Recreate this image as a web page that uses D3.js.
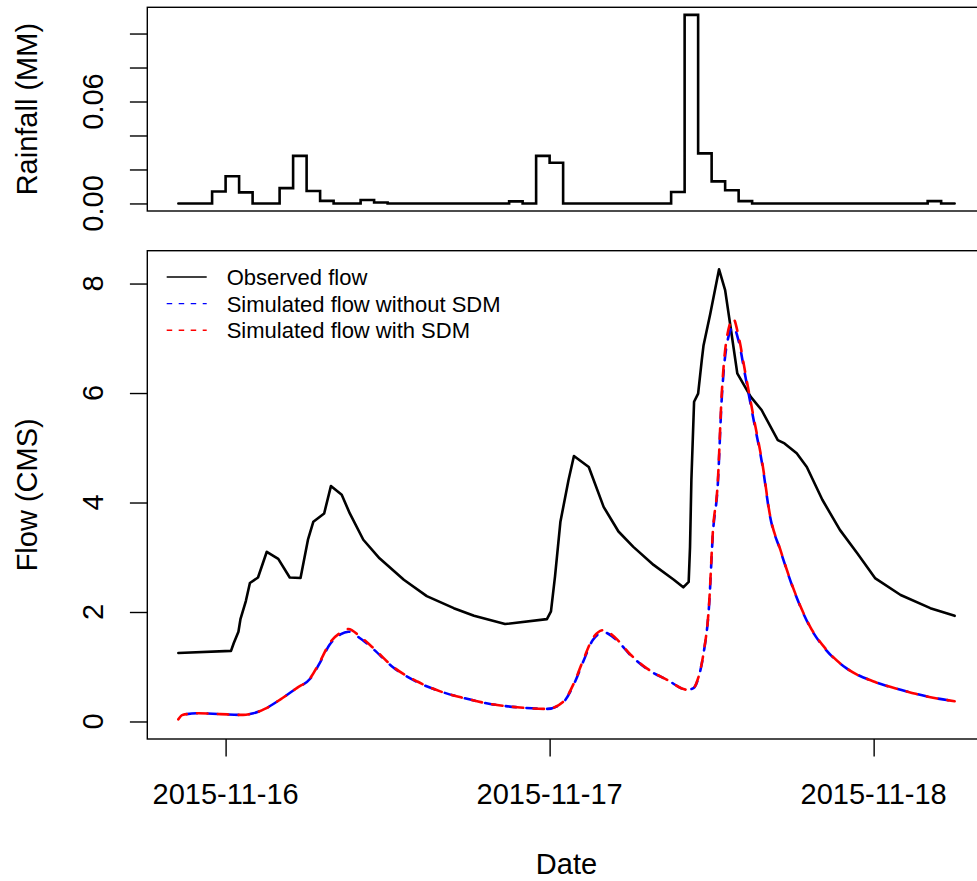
<!DOCTYPE html>
<html>
<head>
<meta charset="utf-8">
<script src="https://cdn.jsdelivr.net/npm/d3@7"></script>
<style>
  body { margin: 0; background: #fff; }
  svg { display: block; }
  text { font-family: "Liberation Sans", Arial, Helvetica, sans-serif; fill: #000; }
</style>
</head>
<body>
<svg id="chart" width="977" height="881"></svg>
<script>
// All times are hours counted from 2015-11-16 00:00 (UTC).

// Hourly rainfall (MM); first record at 20:30, then on the hour.
const rainHours = [-3.5].concat(d3.range(-3, 55));
const rainValues = [
  0, 0, 0,                       // 20:30, 21:00, 22:00
  0.007, 0.016, 0.0065,          // 23:00 .. 01:00
  0, 0,                          // 02:00, 03:00
  0.009, 0.028, 0.0073, 0.0015,  // 04:00 .. 07:00
  0, 0,                          // 08:00, 09:00
  0.002, 0.0006,                 // 10:00, 11:00
  0, 0, 0, 0, 0, 0, 0, 0, 0,     // 12:00 .. 20:00
  0.0012, 0,                     // 21:00, 22:00
  0.028, 0.024,                  // 23:00, 00:00
  0, 0, 0, 0, 0, 0, 0, 0,        // 01:00 .. 08:00
  0.0067, 0.111, 0.0295, 0.013, 0.0078, 0.0014, // 09:00 .. 14:00
  0, 0, 0, 0, 0, 0, 0, 0, 0, 0, 0, 0, 0,        // 15:00 .. 03:00
  0.0014, 0, 0                   // 04:00 .. 06:00
];

// Observed flow (CMS)
const obsHours = [
  -3.5, 0.4, 0.6, 0.95, 1.1, 1.5, 1.8, 2.4, 3.05, 3.9, 4.75, 5.55, 6.1, 6.5, 7.3, 7.8,
  8.6, 9.2, 10.2, 11.4, 13.2, 14.9, 16.9, 18.4, 20.7, 23.8, 24.1, 24.4, 24.8, 25.4, 25.8,
  26.9, 28.0, 29.1, 30.2, 31.7, 33.2, 33.9, 34.3, 34.4, 34.5, 34.7, 35.0, 35.27, 35.4,
  35.9, 36.55, 37.0, 37.4, 37.9, 38.9, 39.7, 40.9, 41.4, 42.3, 43.05, 44.2, 45.5, 46.8,
  48.1, 50.0, 52.2, 54.0
];
const obsFlow = [
  1.25, 1.29, 1.43, 1.64, 1.87, 2.2, 2.53, 2.63, 3.10, 2.97, 2.63, 2.62, 3.32, 3.65, 3.80, 4.30,
  4.14, 3.80, 3.32, 2.98, 2.59, 2.29, 2.07, 1.93, 1.78, 1.87, 2.01, 2.65, 3.65, 4.41, 4.85,
  4.65, 3.92, 3.47, 3.19, 2.86, 2.59, 2.45, 2.55, 3.19, 4.41, 5.84, 5.99, 6.6, 6.87,
  7.45, 8.26, 7.88, 7.21, 6.36, 5.93, 5.69, 5.14, 5.08, 4.90, 4.65, 4.05, 3.50, 3.07,
  2.62, 2.31, 2.07, 1.93
];

// Simulated flow (CMS), without and with SDM
const simHours = [
  -3.5, -3.2, -2.0, -0.4, 1.3, 2.06, 2.9, 4.04, 5.27, 6.26, 7.0, 7.7, 8.5, 9.1, 9.96,
  10.95, 12.4, 14.2, 15.9, 17.6, 19.6, 21.6, 23.8, 25.0, 25.8, 26.5, 27.2, 28.0, 28.9,
  30.0, 31.2, 32.7, 34.2, 34.65, 35.0, 35.4, 35.8, 36.1, 36.45, 36.75, 37.1, 37.6, 38.0,
  38.5, 39.1, 39.8, 40.3, 41.1, 42.1, 43.3, 44.5, 46.0, 48.0, 50.0, 51.9, 54.0
];
const simNoSDM = [
  0.04, 0.12, 0.15, 0.135, 0.12, 0.15, 0.23, 0.40, 0.61, 0.78, 1.08, 1.40, 1.59, 1.64, 1.52,
  1.32, 0.99, 0.72, 0.55, 0.43, 0.32, 0.26, 0.23, 0.35, 0.68, 1.10, 1.49, 1.63, 1.50,
  1.21, 0.96, 0.76, 0.58, 0.61, 0.78, 1.24, 2.08, 3.45, 4.30, 5.90, 6.85, 7.21, 6.95,
  6.30, 5.52, 4.62, 3.78, 3.12, 2.39, 1.72, 1.30, 0.97, 0.73, 0.58, 0.46, 0.37
];
const simSDM = [
  0.04, 0.12, 0.15, 0.135, 0.12, 0.15, 0.23, 0.40, 0.61, 0.79, 1.10, 1.43, 1.62, 1.69, 1.55,
  1.34, 1.00, 0.73, 0.55, 0.43, 0.32, 0.26, 0.23, 0.36, 0.70, 1.13, 1.52, 1.67, 1.52,
  1.22, 0.97, 0.76, 0.58, 0.61, 0.79, 1.25, 2.10, 3.50, 4.35, 5.99, 6.97, 7.36, 7.03,
  6.36, 5.57, 4.65, 3.80, 3.13, 2.40, 1.73, 1.31, 0.97, 0.73, 0.58, 0.46, 0.37
];

const dateTicks = ["2015-11-16", "2015-11-17", "2015-11-18"];
const rainTicks = [0, 0.02, 0.04, 0.06, 0.08, 0.10];
const rainTickLabels = ["0.00", "", "", "0.06", "", ""];
const flowTicks = [0, 2, 4, 6, 8];
const flowLimits = [-0.32, 8.6];

const legendItems = [
  { label: "Observed flow", color: "#000", dash: null },
  { label: "Simulated flow without SDM", color: "#0000ff", dash: "5.5,6.5" },
  { label: "Simulated flow with SDM", color: "#ff0000", dash: "5.5,6.5" }
];

// ---------------------------------------------------------------
const t0 = Date.UTC(2015, 10, 16);
const toDate = h => new Date(t0 + h * 3600000);
const pad = ([a, b]) => { const s = (b - a) * 0.04; return [a - s, b + s]; };

const svg = d3.select("#chart");
const left = 147.3, right = 985.7;
const top1 = 7.3, bottom1 = 211;
const top2 = 250.7, bottom2 = 739;
const tickLen = 17.4;
const axisFont = 29, legendFont = 22;

const x = d3.scaleUtc()
  .domain(pad(d3.extent(obsHours)).map(toDate))
  .range([left, right]);

const yRain = d3.scaleLinear()
  .domain(pad(d3.extent(rainValues)))
  .range([bottom1, top1]);

const yFlow = d3.scaleLinear()
  .domain(flowLimits)
  .range([bottom2, top2]);

// ---------- rainfall panel ----------
const rainLine = d3.line()
  .curve(d3.curveStepAfter)
  .x((d, i) => x(toDate(rainHours[i])))
  .y(d => yRain(d));

svg.append("path")
  .attr("d", rainLine(rainValues))
  .attr("fill", "none")
  .attr("stroke", "#000")
  .attr("stroke-width", 2.6)
  .attr("stroke-linejoin", "miter")
  .attr("stroke-linecap", "round");

svg.append("rect")
  .attr("x", left).attr("y", top1)
  .attr("width", right - left).attr("height", bottom1 - top1)
  .attr("fill", "none").attr("stroke", "#000").attr("stroke-width", 1.4);

const rainAxis = svg.append("g").attr("transform", `translate(${left},0)`)
  .call(d3.axisLeft(yRain).tickValues(rainTicks).tickSize(tickLen).tickFormat(""));
rainAxis.select(".domain").remove();
rainAxis.selectAll(".tick line").attr("stroke-width", 1.4);

rainTicks.forEach((v, i) => {
  if (!rainTickLabels[i]) return;
  svg.append("text")
    .attr("transform", `translate(103,${yRain(v)}) rotate(-90)`)
    .attr("text-anchor", "middle")
    .attr("font-size", axisFont)
    .text(rainTickLabels[i]);
});

svg.append("text")
  .attr("transform", `translate(36.5,${(top1 + bottom1) / 2}) rotate(-90)`)
  .attr("text-anchor", "middle")
  .attr("font-size", axisFont)
  .text("Rainfall (MM)");

// ---------- flow panel ----------
const lineObs = d3.line()
  .x((d, i) => x(toDate(obsHours[i])))
  .y(d => yFlow(d));

const lineSim = d3.line()
  .curve(d3.curveMonotoneX)
  .x((d, i) => x(toDate(simHours[i])))
  .y(d => yFlow(d));

svg.append("path")
  .attr("d", lineObs(obsFlow))
  .attr("fill", "none").attr("stroke", "#000")
  .attr("stroke-width", 2.6)
  .attr("stroke-linejoin", "round").attr("stroke-linecap", "round");

svg.append("path")
  .attr("d", lineSim(simNoSDM))
  .attr("fill", "none").attr("stroke", "#0000ff")
  .attr("stroke-width", 2.6)
  .attr("stroke-dasharray", "10.4,10.4")
  .attr("stroke-dashoffset", 10.4)
  .attr("stroke-linejoin", "round").attr("stroke-linecap", "round");

svg.append("path")
  .attr("d", lineSim(simSDM))
  .attr("fill", "none").attr("stroke", "#ff0000")
  .attr("stroke-width", 2.6)
  .attr("stroke-dasharray", "10.4,10.4")
  .attr("stroke-linejoin", "round").attr("stroke-linecap", "round");

svg.append("rect")
  .attr("x", left).attr("y", top2)
  .attr("width", right - left).attr("height", bottom2 - top2)
  .attr("fill", "none").attr("stroke", "#000").attr("stroke-width", 1.4);

const flowAxis = svg.append("g").attr("transform", `translate(${left},0)`)
  .call(d3.axisLeft(yFlow).tickValues(flowTicks).tickSize(tickLen).tickFormat(""));
flowAxis.select(".domain").remove();
flowAxis.selectAll(".tick line").attr("stroke-width", 1.4);

flowTicks.forEach(v => {
  svg.append("text")
    .attr("transform", `translate(103,${yFlow(v)}) rotate(-90)`)
    .attr("text-anchor", "middle")
    .attr("font-size", axisFont)
    .text(d3.format("d")(v));
});

svg.append("text")
  .attr("transform", `translate(36.5,${(top2 + bottom2) / 2}) rotate(-90)`)
  .attr("text-anchor", "middle")
  .attr("font-size", axisFont)
  .text("Flow (CMS)");

// date axis
const dateParse = d3.utcParse("%Y-%m-%d");
const dateAxis = svg.append("g").attr("transform", `translate(0,${bottom2})`)
  .call(d3.axisBottom(x).tickValues(dateTicks.map(dateParse)).tickSize(tickLen).tickFormat(""));
dateAxis.select(".domain").remove();
dateAxis.selectAll(".tick line").attr("stroke-width", 1.4);

dateTicks.forEach(s => {
  svg.append("text")
    .attr("x", x(dateParse(s))).attr("y", 804.3)
    .attr("text-anchor", "middle")
    .attr("font-size", axisFont)
    .text(s);
});

svg.append("text")
  .attr("x", (left + right) / 2).attr("y", 874)
  .attr("text-anchor", "middle")
  .attr("font-size", axisFont)
  .text("Date");

// legend
const legend = svg.append("g");
legendItems.forEach((it, i) => {
  const cy = 277 + i * 26.6;
  legend.append("line")
    .attr("x1", 166.7).attr("x2", 206.7)
    .attr("y1", cy).attr("y2", cy)
    .attr("stroke", it.color).attr("stroke-width", 1.4)
    .attr("stroke-dasharray", it.dash);
  legend.append("text")
    .attr("x", 226.7).attr("y", cy + 7.9)
    .attr("font-size", legendFont)
    .text(it.label);
});
</script>
</body>
</html>
